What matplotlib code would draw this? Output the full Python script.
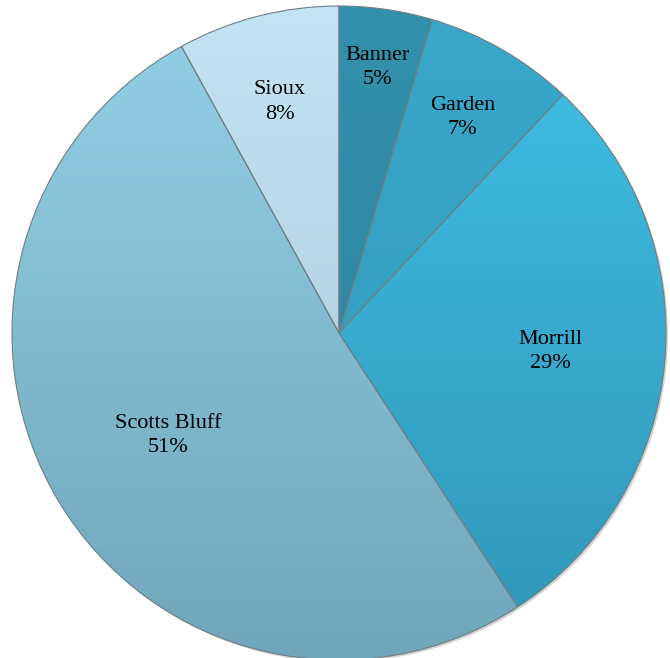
import numpy as np
import matplotlib.pyplot as plt
from matplotlib.colors import LinearSegmentedColormap
from matplotlib.patches import Circle

# ---------------------------------------------------
# Data
# ---------------------------------------------------

counties = ["Banner", "Garden", "Morrill", "Scotts Bluff", "Sioux"]
shares = [4.6, 7.4, 28.8, 51.2, 8.0]

top_colors = ["#3391ad", "#39a8ca", "#3fc0e5", "#93d0e6", "#c3e4f3"]
bottom_colors = ["#2a7f99", "#3197b6", "#3195b6", "#70a6ba", "#a7c6d4"]

label_radius = [0.82, 0.76, 0.65, 0.61, 0.73]

# ---------------------------------------------------
# Figure
# ---------------------------------------------------

W, H = 670, 658
cx, cy, R = 339, 333, 327

fig = plt.figure(figsize=(W / 100, H / 100), dpi=100)
ax = fig.add_axes([0, 0, 1, 1])
ax.axis("off")

# soft shadow under the pie
ax.add_patch(Circle((0.006, -0.006), 1.0, facecolor="#000000",
                    alpha=0.18, edgecolor="none", zorder=0))

wedges, _ = ax.pie(
    shares,
    startangle=90,
    counterclock=False,
    radius=1,
    colors=top_colors,
    wedgeprops=dict(edgecolor="#6f7f86", linewidth=0.8),
)

# gradient fill clipped to each wedge
for wedge, c_top, c_bot in zip(wedges, top_colors, bottom_colors):
    cmap = LinearSegmentedColormap.from_list("g", [c_bot, c_top])
    grad = np.linspace(0, 1, 256).reshape(-1, 1)
    img = ax.imshow(
        grad,
        cmap=cmap,
        extent=(-1, 1, -1, 1),
        origin="lower",
        aspect="auto",
        zorder=wedge.get_zorder() + 0.1,
    )
    img.set_clip_path(wedge)
    wedge.set_facecolor("none")
    wedge.set_zorder(wedge.get_zorder() + 0.2)

ax.set_xlim(-cx / R, (W - cx) / R)
ax.set_ylim(-(H - cy) / R, cy / R)

# labels
for wedge, name, value, r in zip(wedges, counties, shares, label_radius):
    mid = np.deg2rad((wedge.theta1 + wedge.theta2) / 2)
    ax.text(
        r * np.cos(mid),
        r * np.sin(mid),
        f"{name}\n{value:.0f}%",
        ha="center",
        va="center",
        fontsize=16,
        family="Liberation Serif",
        color="#000000",
        linespacing=1.4,
        zorder=5,
    )

plt.savefig("out.png", dpi=100)
plt.close()
